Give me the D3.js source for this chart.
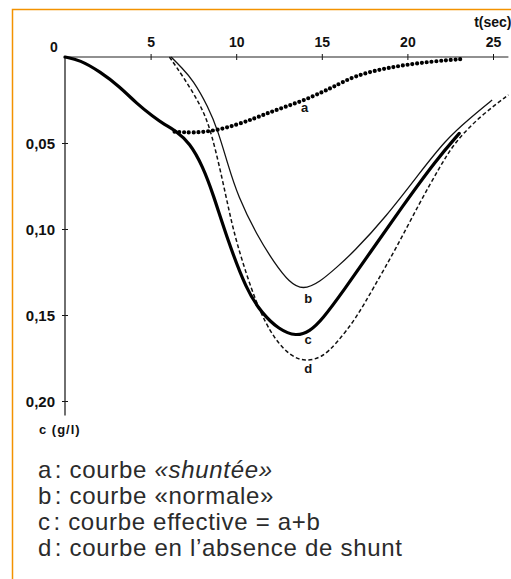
<!DOCTYPE html>
<html>
<head>
<meta charset="utf-8">
<script src="https://cdn.jsdelivr.net/npm/d3@7"></script>
<style>
body { margin: 0; background: #fff; }
svg { display: block; }
.tick text, .lbl { font-family: "Liberation Sans", Arial, sans-serif; font-weight: bold; fill: #111; }
.legend { font-family: "Liberation Sans", Arial, sans-serif; font-size: 24px; letter-spacing: 0.7px; fill: #2b2b2b; }
</style>
</head>
<body>
<svg id="chart" width="511" height="579"></svg>
<script>
// time in seconds, concentration in g/l
var xTicks = [5, 10, 15, 20, 25];
var yTicks = [0.05, 0.10, 0.15, 0.20];

// a : shunted curve (dotted part only, before that it is the same as c)
var curveA = [[6.4,0.0434],[7.5,0.0442],[8.8,0.0428],[10,0.0395],[11.07,0.0357],[12,0.032],[13,0.0285],
  [14,0.025],[15,0.0205],[15.7,0.0173],[16.9,0.011],[18.5,0.007],[19.8,0.0047],[21.5,0.0025],[23.2,0.0012]];
// b : normal curve
var curveB = [[6.2,0],[6.8,0.006],[7.48,0.0134],[8.36,0.0289],[8.94,0.043],[9.5,0.062],[10.1,0.081],
  [11.2,0.1035],[12.25,0.12],[13.1,0.131],[13.9,0.1355],[14.87,0.131],[15.9,0.122],[16.8,0.114],
  [18.76,0.0928],[20.7,0.0676],[22.25,0.048],[23.6,0.036],[24.95,0.025]];
// c : effective curve = a+b
var curveC = [[0,0],[0.87,0.0017],[2.04,0.0085],[3.2,0.0173],[4.18,0.027],[5.15,0.0347],[5.8,0.0392],
  [6.41,0.0424],[7.3,0.050],[8.05,0.0638],[8.63,0.079],[9.5,0.1064],[10.6,0.1355],[11.5,0.149],[12.5,0.1585],
  [13.5,0.1625],[14.3,0.1595],[15,0.153],[16.3,0.1355],[17.8,0.114],[19.7,0.087],[21.67,0.06],[23.03,0.0444]];
// d : curve without shunt
var curveD = [[6.1,0],[6.9,0.0114],[7.87,0.027],[8.55,0.0424],[9.45,0.083],[9.95,0.1064],[11.2,0.145],
  [12.25,0.1645],[13.2,0.174],[14,0.177],[15,0.175],[15.9,0.166],[17,0.152],[18,0.1345],[19.3,0.112],
  [20.7,0.085],[21.9,0.0638],[22.8,0.049],[24.3,0.034],[25.9,0.022]];

var curveLabels = [["a",14,0.032],["b",14.2,0.143],["c",14.2,0.167],["d",14.2,0.1835]];
var legendLines = [
  ["a\u200A: courbe ", "«shuntée»"],
  ["b\u200A: courbe «normale»", ""],
  ["c\u200A: courbe effective = a+b", ""],
  ["d\u200A: courbe en l\u2019absence de shunt", ""]
];

var svg = d3.select("#chart");

// orange frame (top and left only)
svg.append("path")
  .attr("d", "M12.5,579 V9.5 H511")
  .attr("fill", "none")
  .attr("stroke", "#f39200")
  .attr("stroke-width", 1.5);

var x = d3.scaleLinear().domain([0, 25]).range([65, 493]);
var y = d3.scaleLinear().domain([0, 0.2]).range([57, 401]);

// x axis (on top)
var gx = svg.append("g").attr("transform", "translate(0," + y(0) + ")")
  .call(d3.axisTop(x).tickValues(xTicks).tickSize(3).tickPadding(7));
gx.select(".domain").remove();
gx.selectAll(".tick line").attr("y2", 3).attr("y1", -3).attr("stroke", "#111");
gx.selectAll(".tick text").style("font-size", "14px");
gx.append("line").attr("x1", x(0)).attr("x2", x(25.9))
  .attr("stroke", "#222").attr("stroke-width", 1.1);

// y axis
var gy = svg.append("g").attr("transform", "translate(" + x(0) + ",0)")
  .call(d3.axisLeft(y).tickValues(yTicks).tickSize(3).tickPadding(7)
    .tickFormat(function(d) { return d3.format(".2f")(d).replace(".", ","); }));
gy.select(".domain").remove();
gy.selectAll(".tick line").attr("x1", -3).attr("x2", 3).attr("stroke", "#111");
gy.selectAll(".tick text").style("font-size", "15px").attr("dy", "0.34em");
gy.append("line").attr("y1", y(0)).attr("y2", y(0.2085))
  .attr("stroke", "#222").attr("stroke-width", 1.3);

svg.append("text").attr("class", "lbl").attr("x", x(0) - 11).attr("y", y(0) - 5)
  .attr("text-anchor", "middle").style("font-size", "14px").text("0");
svg.append("text").attr("class", "lbl").attr("x", x(23.9)).attr("y", 27)
  .style("font-size", "14px").text("t(sec)");
svg.append("text").attr("class", "lbl").attr("x", 39).attr("y", 434)
  .style("font-size", "13px").style("letter-spacing", "1px").text("c (g/l)");

var line = d3.line()
  .x(function(d) { return x(d[0]); })
  .y(function(d) { return y(d[1]); })
  .curve(d3.curveBasis);

svg.append("path").datum(curveB).attr("d", line)
  .attr("fill", "none").attr("stroke", "#111").attr("stroke-width", 1.3);
svg.append("path").datum(curveD).attr("d", line)
  .attr("fill", "none").attr("stroke", "#111").attr("stroke-width", 1.5)
  .attr("stroke-dasharray", "4,2.5");
svg.append("path").datum(curveC).attr("d", line)
  .attr("fill", "none").attr("stroke", "#000").attr("stroke-width", 3.2)
  .attr("stroke-linecap", "round");
svg.append("path").datum(curveA).attr("d", line)
  .attr("fill", "none").attr("stroke", "#000").attr("stroke-width", 4.2)
  .attr("stroke-linecap", "round").attr("stroke-dasharray", "0,4.8");

svg.selectAll(".clbl").data(curveLabels).enter().append("text")
  .attr("class", "lbl clbl")
  .attr("x", function(d) { return x(d[1]); })
  .attr("y", function(d) { return y(d[2]); })
  .attr("text-anchor", "middle")
  .style("font-size", "13px")
  .text(function(d) { return d[0]; });

// legend
var leg = svg.selectAll(".legend").data(legendLines).enter().append("text")
  .attr("class", "legend")
  .attr("x", 38)
  .attr("y", function(d, i) { return 478 + i * 26; });
leg.append("tspan").text(function(d) { return d[0]; });
leg.append("tspan").style("font-style", "italic").text(function(d) { return d[1]; });
</script>
</body>
</html>
